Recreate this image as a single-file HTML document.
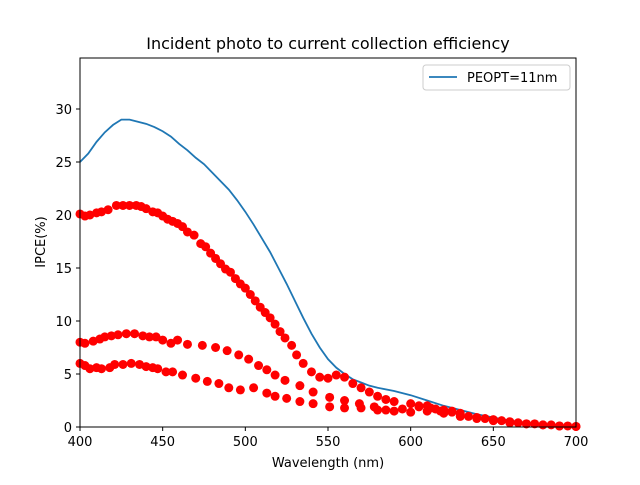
<!DOCTYPE html>
<html><head><meta charset="utf-8"><style>
body{margin:0;background:#fff}
svg text{font-family:"DejaVu Sans","Liberation Sans",sans-serif;fill:#000}
</style></head><body>
<svg id="c" width="640" height="480" xmlns="http://www.w3.org/2000/svg">
<rect width="640" height="480" fill="#fff"/>
<text x="328" y="49" font-size="16" text-anchor="middle">Incident photo to current collection efficiency</text>
<g id="plot"></g>
<rect x="80" y="58" width="496" height="369" fill="none" stroke="#000" stroke-width="1"/>
<text x="328" y="467" font-size="13" text-anchor="middle">Wavelength (nm)</text>
<text transform="translate(45,242) rotate(-90)" font-size="13" text-anchor="middle">IPCE(%)</text>
<g>
<rect x="423" y="65" width="147" height="25" rx="3" fill="#fff" stroke="#ccc"/>
<line x1="429" y1="77" x2="457" y2="77" stroke="#1f77b4" stroke-width="1.8"/>
<text x="467" y="82" font-size="13">PEOPT=11nm</text>
</g>
</svg>
<script>
const xTicks=[400,450,500,550,600,650,700];
const yTicks=[0,5,10,15,20,25,30];
const lineW=[400,405,410,415,420,425,430,435,440,445,450,455,460,465,470,475,480,485,490,495,500,505,510,515,520,525,530,535,540,545,550,555,560,565,570,575,580,590,600,610,620,630,640,650,660,670,680,690,700];
const lineV=[25,25.8,26.9,27.8,28.5,29.0,29.0,28.8,28.6,28.3,27.9,27.4,26.7,26.1,25.4,24.8,24.0,23.2,22.4,21.4,20.3,19.1,17.8,16.5,15.0,13.5,11.9,10.3,8.8,7.5,6.4,5.6,5.0,4.5,4.2,3.9,3.7,3.4,3.0,2.5,2.0,1.6,1.2,0.9,0.6,0.4,0.2,0.1,0.05];
const aW=[400,403,406,410,413,417,422,426,430,434,437,440,444,447,450,453,456,459,462,465,469,473,476,479,482,485,488,491,494,497,500,503,506,509,512,515,518,521,524,528,531,535,540,545,550,555,560,565,570,575,580,585,590,600,605,610,615,620,625,630,640,650,660,670,680,690,700];
const aV=[20.1,19.9,20.0,20.2,20.3,20.5,20.9,20.9,20.9,20.9,20.8,20.6,20.3,20.2,19.9,19.6,19.4,19.2,18.9,18.4,18.1,17.3,17.0,16.4,15.9,15.4,14.9,14.6,14.0,13.5,13.1,12.5,11.9,11.3,10.8,10.3,9.7,9.0,8.4,7.7,6.8,6.0,5.2,4.7,4.6,4.9,4.7,4.1,3.7,3.3,2.9,2.6,2.4,2.2,2.0,2.0,1.7,1.6,1.4,1.3,0.9,0.7,0.5,0.3,0.2,0.1,0.05];
const bW=[400,403,408,412,415,419,423,428,433,438,442,446,450,455,459,465,474,482,489,496,502,508,513,518,524,533,541,551,560,569,578,585,595,605,612,618,625,635,645,655,665,675,685,695];
const bV=[8.0,7.9,8.1,8.3,8.5,8.6,8.7,8.8,8.8,8.6,8.5,8.5,8.2,7.9,8.2,7.8,7.7,7.5,7.2,6.8,6.4,5.8,5.4,4.9,4.4,3.9,3.3,2.8,2.5,2.2,1.9,1.6,1.7,1.9,1.8,1.5,1.5,1.0,0.8,0.6,0.4,0.3,0.2,0.1];
const cW=[400,403,406,410,413,418,421,426,431,436,440,444,447,452,456,462,470,477,484,490,497,505,513,518,525,533,541,551,560,570,580,590,600,610,620,630,640,650,660,670,680,690,700];
const cV=[6.0,5.8,5.5,5.6,5.5,5.6,5.9,5.9,6.0,5.9,5.7,5.6,5.5,5.2,5.2,4.9,4.6,4.3,4.1,3.7,3.5,3.7,3.2,2.9,2.7,2.4,2.2,1.9,1.8,1.8,1.6,1.5,1.4,1.5,1.3,1.0,0.8,0.6,0.4,0.3,0.2,0.1,0.05];
const X=w=>80+(w-400)*496/300;
const Y=v=>427-v*10.6;
const NS="http://www.w3.org/2000/svg";
const g=document.getElementById('plot');
function mk(t,a){const e=document.createElementNS(NS,t);for(const k in a)e.setAttribute(k,a[k]);g.appendChild(e);return e;}
xTicks.forEach(t=>{
 const l=mk('line',{x1:X(t),x2:X(t),y1:427,y2:431,stroke:'#000'});
 
 
 const tx=mk('text',{x:X(t),y:446,'font-size':13,'text-anchor':'middle'});tx.textContent=t;
 
 
});
yTicks.forEach(t=>{
 const l=mk('line',{x1:76,x2:80,y1:Y(t),y2:Y(t),stroke:'#000'});
 
 
 const tx=mk('text',{x:72,y:Y(t)+5,'font-size':13,'text-anchor':'end'});tx.textContent=t;
 
 
});
const p=mk('polyline',{points:lineW.map((w,i)=>X(w)+','+Y(lineV[i])).join(' '),fill:'none',stroke:'#1f77b4','stroke-width':1.8});


[[aW,aV,'series-a-point'],[bW,bV,'series-b-point'],[cW,cV,'series-c-point']].forEach(([W,V,n])=>{
 W.forEach((w,i)=>{
  const c=mk('circle',{cx:X(w),cy:Y(V[i]),r:4.5,fill:'#ff0000'});
  
  
 });
});
</script>
</body></html>
